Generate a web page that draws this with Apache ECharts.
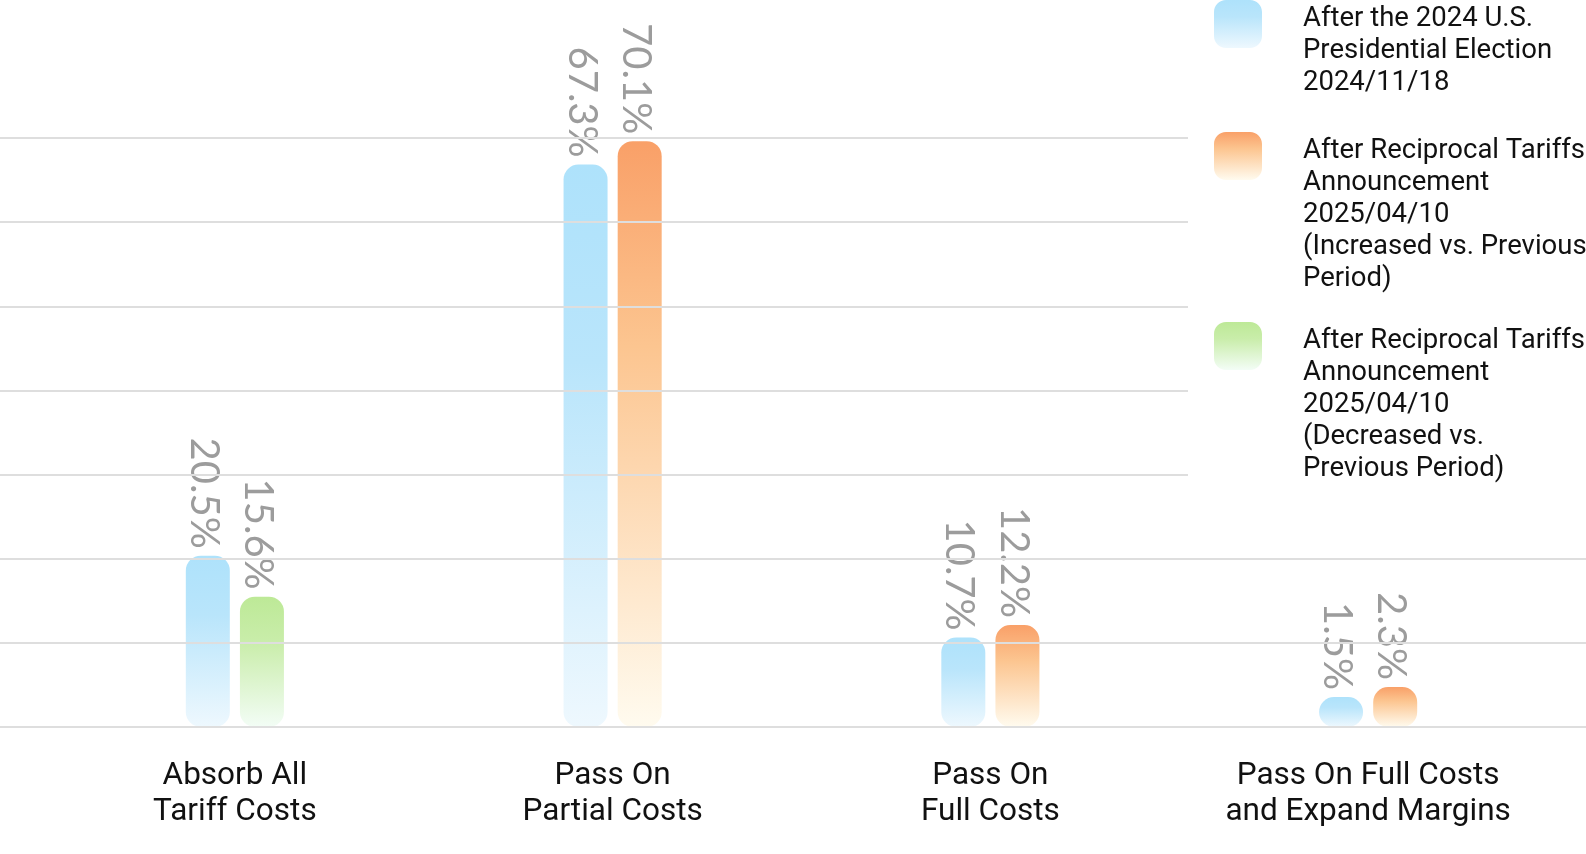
<!DOCTYPE html>
<html>
<head>
<meta charset="utf-8">
<script src="https://cdn.jsdelivr.net/npm/echarts@6/dist/echarts.min.js"></script>
<style>
  html, body { margin: 0; padding: 0; background: #fff; }
  #chart { width: 1586px; height: 854px; }
</style>
</head>
<body>
<div id="chart"></div>
<script>
// categories on the x axis
var categories = [
    'Absorb All\nTariff Costs',
    'Pass On\nPartial Costs',
    'Pass On\nFull Costs',
    'Pass On Full Costs\nand Expand Margins'
];

// legend texts
var seriesNames = [
    'After the 2024 U.S.\nPresidential Election\n2024/11/18',
    'After Reciprocal Tariffs\nAnnouncement\n2025/04/10\n(Increased vs. Previous\nPeriod)',
    'After Reciprocal Tariffs\nAnnouncement\n2025/04/10\n(Decreased vs.\nPrevious Period)'
];

// values (%)
var electionValues = [20.5, 67.3, 10.7, 1.5];
var increasedValues = [null, 70.1, 12.2, 2.3];
var decreasedValues = [15.6, null, null, null];

var FONT = 'Roboto';
var LABEL_FONT = 'Lato';
var LINE_H = 32;

// colours: top, middle, bottom of each fade
var blueStops = ['#aee2fb', '#b9e5fb', '#eef8fe'];
var orangeStops = ['#f9a068', '#fcc590', '#fffbef'];
var greenStops = ['#bde997', '#c9edaa', '#f3fdf6'];

// span: part of the shape height the fade covers (legend icons are only the top of their box)
function fade(stops, span) {
    span = span || 1;
    return new echarts.graphic.LinearGradient(0, 0, 0, 1, [
        {offset: 0, color: stops[0]},
        {offset: 0.35 * span, color: stops[1]},
        {offset: span, color: stops[2]},
        {offset: 1, color: stops[2]}
    ]);
}

// offset is in the rotated frame: x runs down the bar, y runs to the left
var barLabel = {
    show: true,
    position: 'top',
    distance: 8,
    offset: [1, 4],
    rotate: -90,
    align: 'right',
    verticalAlign: 'middle',
    formatter: '{c}%',
    fontFamily: LABEL_FONT,
    fontSize: 40,
    color: '#9c9c9c'
};

// rounded square 48x48 at the top of a 48 x h box
function iconPath(h) {
    return 'path://M12,0 L36,0 C42.6,0 48,5.4 48,12 L48,36 C48,42.6 42.6,48 36,48 ' +
        'L12,48 C5.4,48 0,42.6 0,36 L0,12 C0,5.4 5.4,0 12,0 Z M0,' + h + ' L0.01,' + h + ' Z';
}

var legendTops = [0, 132, 322];
var legendPadBottom = [0, 30, 22];
var fadeStops = [blueStops, orangeStops, greenStops];

var legends = seriesNames.map(function (name, i) {
    var lines = name.split('\n').length;
    var h = lines * LINE_H + 6;
    return {
        orient: 'vertical',
        left: 1188,
        top: legendTops[i],
        padding: [0, 60, legendPadBottom[i], 26],
        backgroundColor: '#fff',
        z: 10,
        itemWidth: 48,
        itemHeight: h,
        icon: iconPath(h),
        selectedMode: false,
        itemStyle: {color: fade(fadeStops[i], 48 / h)},
        textStyle: {
            fontFamily: FONT,
            fontSize: 27.5,
            lineHeight: LINE_H,
            color: '#111',
            padding: [0, 0, 0, 36]
        },
        data: [name]
    };
});

var dom = document.getElementById('chart');
var myChart = echarts.init(dom);
var option = {
    backgroundColor: '#fff',
    animation: false,
    legend: legends,
    grid: [
        {left: 46, right: 29, top: 0, bottom: 127},
        {left: 0, right: 0, top: 138, bottom: 127}
    ],
    xAxis: [
        {
            type: 'category',
            gridIndex: 0,
            data: categories,
            axisLine: {show: false},
            axisTick: {show: false},
            axisLabel: {
                margin: 31,
                fontFamily: FONT,
                fontSize: 31.5,
                lineHeight: 36,
                color: '#111'
            }
        },
        {type: 'value', gridIndex: 1, show: false}
    ],
    yAxis: [
        {
            type: 'value',
            gridIndex: 0,
            min: 0,
            max: 87,
            show: false
        },
        {
            // only draws the horizontal grid lines
            type: 'value',
            gridIndex: 1,
            min: 0,
            max: 70,
            interval: 10,
            z: 5,
            axisLine: {show: false},
            axisTick: {show: false},
            axisLabel: {show: false},
            splitLine: {lineStyle: {color: '#dedede', width: 2}}
        }
    ],
    series: [
        {
            name: seriesNames[0],
            type: 'bar',
            data: electionValues,
            barWidth: 44,
            barGap: '23%',
            barMinHeight: 30,
            itemStyle: {color: fade(blueStops), borderRadius: 15},
            label: barLabel
        },
        {
            name: seriesNames[1],
            type: 'bar',
            stack: 'after',
            data: increasedValues,
            barWidth: 44,
            barMinHeight: 40,
            itemStyle: {color: fade(orangeStops), borderRadius: 15},
            label: barLabel
        },
        {
            name: seriesNames[2],
            type: 'bar',
            stack: 'after',
            data: decreasedValues,
            barWidth: 44,
            barMinHeight: 30,
            itemStyle: {color: fade(greenStops), borderRadius: 15},
            label: barLabel
        }
    ]
};

if (option && typeof option === 'object') {
    myChart.setOption(option);
}
</script>
</body>
</html>
